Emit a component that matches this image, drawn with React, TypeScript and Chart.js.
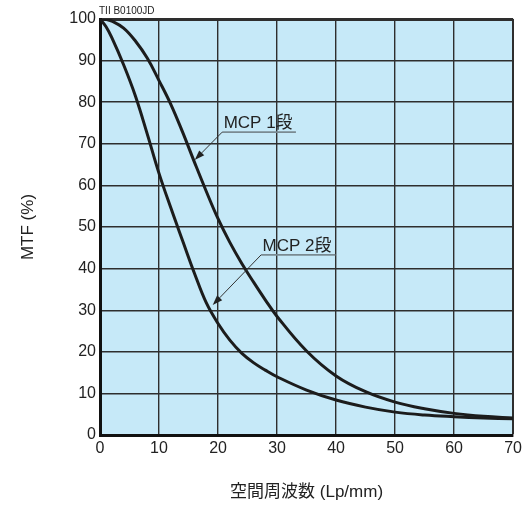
import React, { useEffect, useRef } from "react";
import { Chart, registerables } from "chart.js";

Chart.register(...registerables);

// Spatial frequency (Lp/mm) and MTF (%) for each curve
const mcp1X = [0, 1, 2, 4, 6, 8, 10, 12, 14, 16, 18, 20, 22, 24, 26, 28, 30, 35, 40, 45, 50, 55, 60, 65, 70];
const mcp1Y = [100, 99.9, 99.5, 97.8, 94.7, 90.6, 85.2, 79.5, 72.8, 65.6, 58.6, 52, 46.3, 41.3, 36.8, 32.5, 28.5, 20.2, 14.2, 10.4, 7.9, 6.3, 5.2, 4.5, 4.1];
const mcp2X = [0, 1, 2, 4, 6, 8, 10, 12, 14, 16, 18, 20, 22, 24, 26, 28, 30, 35, 40, 45, 50, 55, 60, 65, 70];
const mcp2Y = [100, 98.2, 95.5, 89, 81.5, 72.4, 62.9, 54.6, 46.7, 38.9, 31.8, 26.8, 22.8, 19.7, 17.4, 15.6, 14, 10.8, 8.4, 6.7, 5.5, 4.8, 4.4, 4.1, 3.9];

// Axis ranges / ticks
const xMin = 0, xMax = 70, xStep = 10;
const yMin = 0, yMax = 100, yStep = 10;
const xTitle = "空間周波数 (Lp/mm)";
const yTitle = "MTF (%)";
const codeLabel = "TII B0100JD";

// Callout labels (data coordinates)
const calloutText = ["MCP 1段", "MCP 2段"];
const calloutStartX = [20.7, 27.3];
const calloutStartY = [72.8, 43.3];
const calloutEndX = [33.2, 39.9];
const calloutTipX = [16.05, 19.1];
const calloutTipY = [66.1, 31.25];

const FONT = "'Liberation Sans', Arial, 'Noto Sans CJK JP', sans-serif";

const overlayPlugin = {
  id: "overlay",
  beforeDraw(chart: any) {
    const { ctx, chartArea } = chart;
    ctx.save();
    ctx.fillStyle = "#c6e9f8";
    ctx.fillRect(chartArea.left, chartArea.top, chartArea.right - chartArea.left, chartArea.bottom - chartArea.top);
    ctx.restore();
  },
  afterDraw(chart: any) {
    const { ctx, chartArea, scales } = chart;
    const xs = scales.x, ys = scales.y;
    ctx.save();
    // code label
    ctx.fillStyle = "#222";
    ctx.font = `10px ${FONT}`;
    ctx.textAlign = "left";
    ctx.textBaseline = "alphabetic";
    ctx.fillText(codeLabel, chartArea.left - 1, chartArea.top - 5);

    for (let i = 0; i < calloutText.length; i++) {
      const sx = xs.getPixelForValue(calloutStartX[i]);
      const sy = ys.getPixelForValue(calloutStartY[i]);
      const ex = xs.getPixelForValue(calloutEndX[i]);
      const tx = xs.getPixelForValue(calloutTipX[i]);
      const ty = ys.getPixelForValue(calloutTipY[i]);
      // text
      ctx.fillStyle = "#222";
      ctx.font = `17px ${FONT}`;
      ctx.textAlign = "left";
      ctx.textBaseline = "alphabetic";
      ctx.fillText(calloutText[i], sx + 1.5, sy - 4);
      // underline
      ctx.strokeStyle = "#7a8a92";
      ctx.lineWidth = 1.6;
      ctx.beginPath();
      ctx.moveTo(sx, sy);
      ctx.lineTo(ex, sy);
      ctx.stroke();
      // leader line
      const ang = Math.atan2(ty - sy, tx - sx);
      const headLen = 10, headW = 3.5;
      const bx = tx - headLen * Math.cos(ang);
      const by = ty - headLen * Math.sin(ang);
      ctx.strokeStyle = "#333";
      ctx.lineWidth = 1;
      ctx.beginPath();
      ctx.moveTo(sx, sy);
      ctx.lineTo(bx, by);
      ctx.stroke();
      ctx.fillStyle = "#222";
      ctx.beginPath();
      ctx.moveTo(tx, ty);
      ctx.lineTo(bx + headW * Math.sin(ang), by - headW * Math.cos(ang));
      ctx.lineTo(bx - headW * Math.sin(ang), by + headW * Math.cos(ang));
      ctx.closePath();
      ctx.fill();
    }
    ctx.restore();
  },
};

export default function App() {
  const ref = useRef<HTMLCanvasElement | null>(null);
  useEffect(() => {
    document.body.style.margin = "0";
    const canvas = ref.current!;
    const chart = new Chart(canvas, {
      type: "line",
      data: {
        datasets: [
          {
            label: "MCP 1段",
            data: mcp1X.map((x, i) => ({ x, y: mcp1Y[i] })),
            borderColor: "#1c1c1c",
            borderWidth: 3,
            pointRadius: 0,
            tension: 0.4,
            fill: false,
          },
          {
            label: "MCP 2段",
            data: mcp2X.map((x, i) => ({ x, y: mcp2Y[i] })),
            borderColor: "#1c1c1c",
            borderWidth: 3,
            pointRadius: 0,
            tension: 0.4,
            fill: false,
          },
        ],
      },
      options: {
        responsive: false,
        animation: false,
        layout: { padding: { top: 19, right: 10, left: 0, bottom: 0 } },
        plugins: { legend: { display: false }, tooltip: { enabled: false } },
        scales: {
          x: {
            type: "linear",
            min: xMin,
            max: xMax,
            ticks: { stepSize: xStep, color: "#222", font: { family: FONT, size: 16 }, padding: 4, maxRotation: 0 },
            grid: {
              color: "#2e2e2e",
              lineWidth: (c: any) => (c.tick && c.tick.value === xMax ? 2 : 1.4),
              drawTicks: false,
            },
            border: { color: "#111", width: 3 },
            title: { display: true, text: xTitle, color: "#222", font: { family: FONT, size: 17 }, padding: { top: 0, bottom: 8 } },
            afterFit: (s: any) => { s.height = 76; },
          },
          y: {
            type: "linear",
            min: yMin,
            max: yMax,
            ticks: { stepSize: yStep, color: "#222", font: { family: FONT, size: 16 }, padding: 4 },
            grid: {
              color: "#2e2e2e",
              lineWidth: (c: any) => (c.tick && c.tick.value === yMax ? 3 : 1.4),
              drawTicks: false,
            },
            border: { color: "#111", width: 3 },
            title: { display: true, text: yTitle, color: "#222", font: { family: FONT, size: 17 }, padding: { top: 18, bottom: 0 } },
            afterFit: (s: any) => { s.width = 100; },
          },
        },
      },
      plugins: [overlayPlugin],
    } as any);
    return () => chart.destroy();
  }, []);
  return <canvas ref={ref} width={526} height={511} />;
}
